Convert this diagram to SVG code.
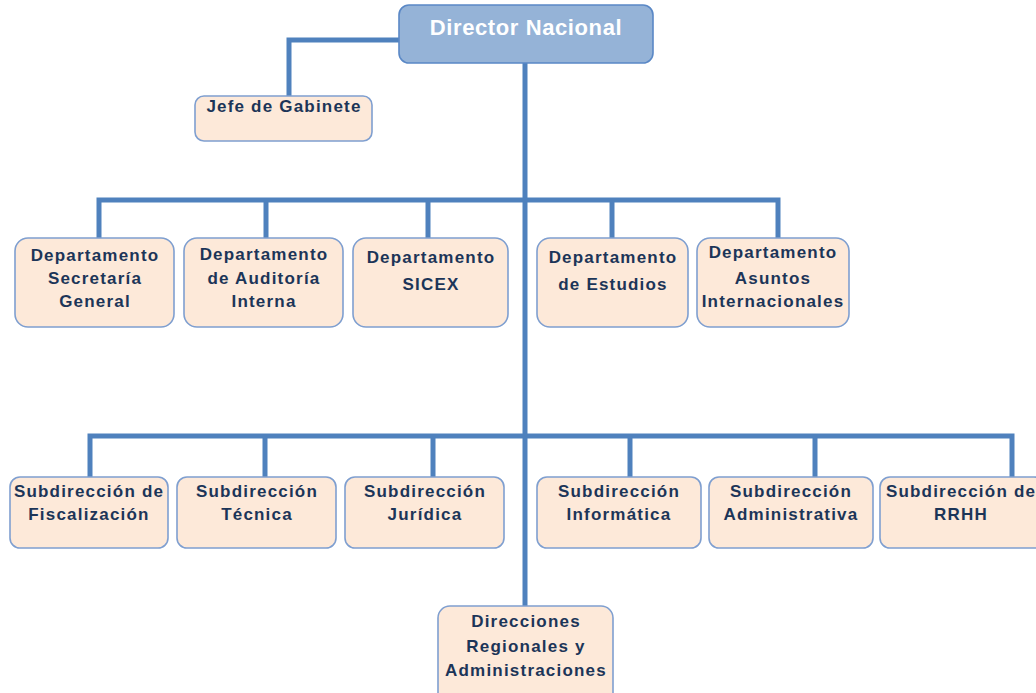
<svg xmlns="http://www.w3.org/2000/svg" width="1036" height="693" viewBox="0 0 1036 693">
  <style>
    .box { fill: #FDE9D9; stroke: #7F9FD0; stroke-width: 1.6; }
    .top { fill: #95B3D7; stroke: #5A88C6; stroke-width: 1.6; }
    .lbl { font-family: "Liberation Sans", Arial, sans-serif; font-weight: bold; font-size: 17px; letter-spacing: 1.2px; fill: #1C3558; text-anchor: middle; }
    .ttl { font-family: "Liberation Sans", Arial, sans-serif; font-weight: bold; font-size: 22px; letter-spacing: 0.6px; fill: #FFFFFF; text-anchor: middle; }
    .wire { fill: none; stroke: #4F81BD; stroke-width: 5; stroke-linejoin: miter; stroke-linecap: butt; }
  </style>

  <!-- connectors -->
  <g id="connectors">
    <path class="wire" d="M399,40 H289 V96"/>
    <path class="wire" d="M525,63 V607"/>
    <path class="wire" d="M99,240 V200 H778 V240"/>
    <path class="wire" d="M266,200 V240 M428,200 V240 M612,200 V240"/>
    <path class="wire" d="M90,478 V436 H1012 V478"/>
    <path class="wire" d="M265,436 V478 M433,436 V478 M630,436 V478 M815,436 V478"/>
  </g>

  <g id="director-nacional">
    <rect class="top" x="399" y="5" width="254" height="58" rx="10"/>
    <text class="ttl" x="526" y="35">Director Nacional</text>
  </g>

  <g id="jefe-gabinete">
    <rect class="box" x="195" y="96" width="177" height="45" rx="9"/>
    <text class="lbl" x="284" y="112">Jefe de Gabinete</text>
  </g>

  <g id="depto-secretaria">
    <rect class="box" x="15" y="238" width="159" height="89" rx="13"/>
    <text class="lbl" x="95" y="261">Departamento</text>
    <text class="lbl" x="95" y="284">Secretaría</text>
    <text class="lbl" x="95" y="307">General</text>
  </g>

  <g id="depto-auditoria">
    <rect class="box" x="184" y="238" width="159" height="89" rx="13"/>
    <text class="lbl" x="264" y="260">Departamento</text>
    <text class="lbl" x="264" y="284">de Auditoría</text>
    <text class="lbl" x="264" y="307">Interna</text>
  </g>

  <g id="depto-sicex">
    <rect class="box" x="353" y="238" width="155" height="89" rx="13"/>
    <text class="lbl" x="431" y="263">Departamento</text>
    <text class="lbl" x="431" y="290">SICEX</text>
  </g>

  <g id="depto-estudios">
    <rect class="box" x="537" y="238" width="151" height="89" rx="13"/>
    <text class="lbl" x="613" y="263">Departamento</text>
    <text class="lbl" x="613" y="290">de Estudios</text>
  </g>

  <g id="depto-asuntos">
    <rect class="box" x="697" y="238" width="152" height="89" rx="13"/>
    <text class="lbl" x="773" y="258">Departamento</text>
    <text class="lbl" x="773" y="284">Asuntos</text>
    <text class="lbl" x="773" y="307">Internacionales</text>
  </g>

  <g id="sub-fiscalizacion">
    <rect class="box" x="10" y="477" width="158" height="71" rx="10"/>
    <text class="lbl" x="89" y="497">Subdirección de</text>
    <text class="lbl" x="89" y="520">Fiscalización</text>
  </g>

  <g id="sub-tecnica">
    <rect class="box" x="177" y="477" width="159" height="71" rx="10"/>
    <text class="lbl" x="257" y="497">Subdirección</text>
    <text class="lbl" x="257" y="520">Técnica</text>
  </g>

  <g id="sub-juridica">
    <rect class="box" x="345" y="477" width="159" height="71" rx="10"/>
    <text class="lbl" x="425" y="497">Subdirección</text>
    <text class="lbl" x="425" y="520">Jurídica</text>
  </g>

  <g id="sub-informatica">
    <rect class="box" x="537" y="477" width="164" height="71" rx="10"/>
    <text class="lbl" x="619" y="497">Subdirección</text>
    <text class="lbl" x="619" y="520">Informática</text>
  </g>

  <g id="sub-administrativa">
    <rect class="box" x="709" y="477" width="164" height="71" rx="10"/>
    <text class="lbl" x="791" y="497">Subdirección</text>
    <text class="lbl" x="791" y="520">Administrativa</text>
  </g>

  <g id="sub-rrhh">
    <rect class="box" x="880" y="477" width="164" height="71" rx="10"/>
    <text class="lbl" x="961" y="497">Subdirección de</text>
    <text class="lbl" x="961" y="520">RRHH</text>
  </g>

  <g id="direcciones-regionales">
    <rect class="box" x="438" y="606" width="175" height="100" rx="12"/>
    <text class="lbl" x="526" y="627">Direcciones</text>
    <text class="lbl" x="526" y="652">Regionales y</text>
    <text class="lbl" x="526" y="676">Administraciones</text>
  </g>
</svg>
